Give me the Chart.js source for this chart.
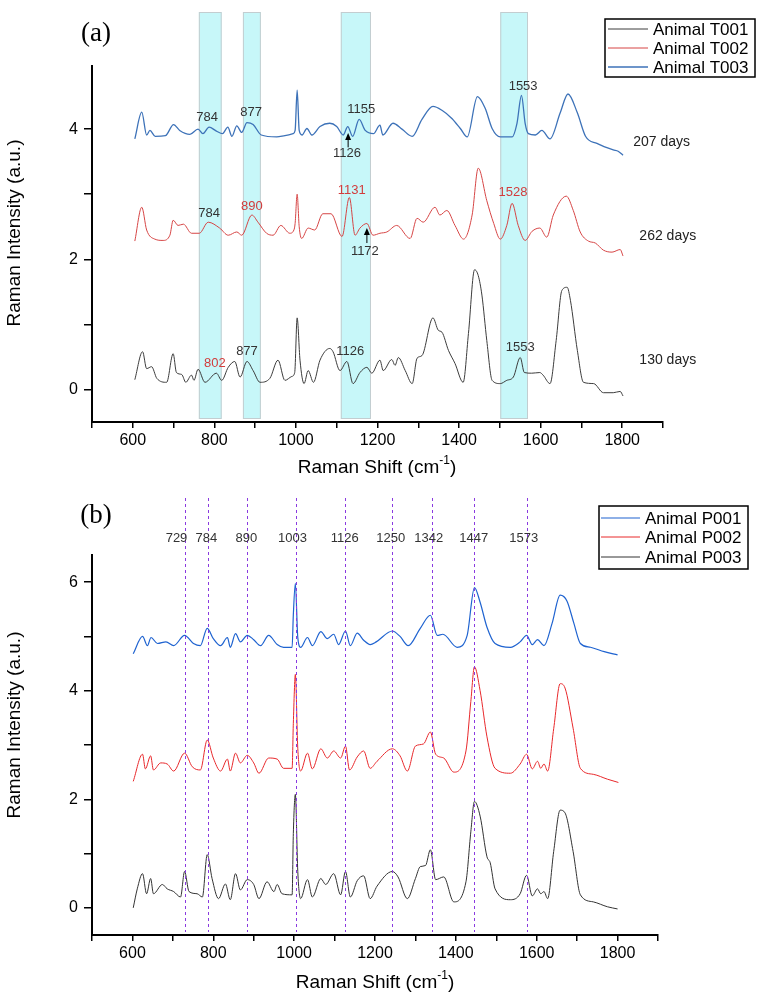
<!DOCTYPE html>
<html>
<head>
<meta charset="utf-8">
<script src="https://cdn.jsdelivr.net/npm/chart.js@4.4.1/dist/chart.umd.min.js"></script>
<style>
  body { margin: 0; background: #fff; }
  #wrap { position: relative; width: 761px; height: 995px; }
  canvas { position: absolute; left: 0; }
  #chartA { top: 0; }
  #chartB { top: 490px; }
</style>
</head>
<body>
<div id="wrap">
  <canvas id="chartA" width="761" height="490"></canvas>
  <canvas id="chartB" width="761" height="505"></canvas>
</div>
<script>
// ---- panel (a) spectra ----
const shiftT001 = [605,624,634,646,659,683,699,707,720,730,744,750,760,777,805,818,834,850,863,880,895,912,936,956,973,990,997,1003,1010,1020,1030,1043,1059,1083,1091,1108,1125,1140,1157,1174,1186,1206,1214,1235,1243,1251,1268,1285,1297,1309,1336,1349,1358,1374,1390,1410,1423,1438,1447,1456,1468,1481,1501,1517,1533,1550,1560,1578,1598,1606,1623,1638,1652,1665,1673,1690,1705,1730,1754,1778,1795,1802];
const intT001 = [0.15,0.58,0.32,0.35,0.17,0.11,0.55,0.26,0.23,0.11,0.22,0.14,0.31,0.11,0.25,0.14,0.34,0.43,0.19,0.43,0.29,0.11,0.17,0.45,0.14,0.20,0.26,1.10,0.45,0.09,0.29,0.11,0.45,0.63,0.58,0.29,0.43,0.09,0.26,0.34,0.25,0.45,0.29,0.46,0.37,0.49,0.29,0.09,0.48,0.52,1.10,0.91,0.88,0.60,0.40,0.11,0.86,1.84,1.75,1.45,0.75,0.14,0.09,0.14,0.19,0.49,0.26,0.25,0.26,0.22,0.09,0.75,1.52,1.57,1.37,0.60,0.11,0.09,-0.05,-0.05,-0.03,-0.10];

const shiftT002 = [605,622,634,654,674,691,699,711,724,744,763,785,813,834,855,867,892,907,928,944,963,985,995,998,1003,1008,1014,1030,1046,1066,1086,1113,1131,1145,1157,1174,1189,1206,1223,1247,1280,1297,1312,1341,1353,1370,1390,1411,1432,1447,1468,1485,1501,1517,1530,1545,1562,1579,1598,1615,1631,1663,1680,1697,1717,1734,1754,1775,1795,1802];
const intT002 = [2.28,2.80,2.45,2.31,2.29,2.37,2.60,2.52,2.54,2.40,2.40,2.57,2.48,2.37,2.42,2.37,2.68,2.57,2.40,2.37,2.52,2.40,2.45,2.55,3.00,2.50,2.32,2.48,2.45,2.70,2.70,2.35,2.95,2.37,2.48,2.55,2.37,2.40,2.42,2.52,2.32,2.63,2.57,2.80,2.68,2.75,2.52,2.31,2.68,3.40,2.90,2.55,2.31,2.52,2.86,2.52,2.29,2.43,2.48,2.34,2.68,2.97,2.75,2.42,2.28,2.25,2.14,2.11,2.15,2.05];

const shiftT003 = [605,622,634,642,655,680,700,715,740,760,772,787,805,820,833,843,855,867,880,895,915,953,973,993,998,1003,1008,1015,1027,1039,1059,1083,1100,1116,1127,1139,1155,1170,1190,1206,1213,1238,1260,1285,1309,1336,1358,1383,1403,1420,1445,1464,1481,1501,1530,1542,1553,1562,1570,1587,1603,1623,1648,1667,1690,1710,1738,1778,1790,1802];
const intT003 = [3.85,4.26,3.91,3.98,3.89,3.90,4.07,3.98,3.92,4.00,3.93,4.03,3.97,3.93,4.03,3.89,4.05,3.95,4.10,4.07,3.91,3.88,3.90,3.93,3.98,4.60,3.98,3.91,4.01,3.91,4.04,4.09,4.04,3.91,4.04,3.89,4.15,3.98,3.93,4.06,3.91,4.09,4.00,3.89,4.15,4.35,4.29,4.16,4.01,3.88,4.50,4.32,4.01,3.88,3.88,4.09,4.52,4.09,3.93,3.91,3.98,3.85,4.25,4.54,4.25,3.89,3.78,3.68,3.66,3.60];

// ---- panel (b) spectra ----
const shiftP001 = [602,625,637,646,662,683,702,729,751,768,785,800,818,835,842,855,867,884,900,917,937,958,974,995,998,1003,1009,1016,1033,1045,1066,1082,1098,1110,1127,1139,1156,1172,1188,1203,1243,1262,1282,1312,1337,1354,1368,1403,1428,1446,1460,1477,1497,1535,1559,1575,1589,1602,1618,1638,1658,1675,1692,1708,1733,1767,1800];
const intP001 = [4.68,5.00,4.83,4.98,4.87,4.90,4.83,5.02,4.87,4.83,5.15,4.96,4.83,4.98,4.80,5.05,4.90,5.02,4.94,4.83,5.02,4.85,4.80,4.80,5.40,5.98,4.98,4.80,4.98,4.83,5.09,4.96,5.04,4.85,5.10,4.83,5.06,4.93,4.85,4.90,5.10,5.00,4.83,5.15,5.39,5.02,5.04,4.80,5.02,5.90,5.63,5.17,4.87,4.80,4.90,5.02,4.85,4.94,4.83,5.24,5.76,5.65,5.24,4.87,4.80,4.72,4.66];

const shiftP002 = [602,625,632,645,652,670,686,702,729,748,768,785,800,818,835,842,855,867,884,900,913,937,958,974,995,998,1003,1009,1016,1033,1045,1066,1082,1098,1115,1127,1137,1156,1172,1188,1205,1243,1262,1280,1300,1320,1337,1350,1370,1395,1425,1437,1446,1460,1477,1497,1535,1559,1575,1589,1602,1610,1618,1627,1642,1658,1670,1690,1708,1740,1775,1802];
const intP002 = [2.33,2.83,2.56,2.80,2.54,2.67,2.65,2.52,2.85,2.60,2.54,3.09,2.76,2.52,2.74,2.52,2.85,2.67,2.81,2.67,2.48,2.76,2.74,2.57,2.57,3.40,4.30,2.94,2.52,2.85,2.56,2.93,2.76,2.89,2.76,2.98,2.54,2.78,2.89,2.57,2.70,2.93,2.80,2.52,2.98,3.02,3.24,2.83,2.76,2.50,2.89,3.80,4.44,4.00,3.15,2.57,2.48,2.65,2.83,2.56,2.70,2.57,2.65,2.52,3.30,4.13,4.05,3.31,2.57,2.46,2.37,2.31];

const shiftP003 = [602,612,625,635,645,652,674,686,702,719,729,740,760,773,785,797,813,830,842,855,867,884,900,913,933,950,958,970,995,998,1003,1009,1016,1033,1045,1066,1078,1098,1115,1127,1139,1156,1172,1188,1205,1243,1257,1280,1300,1312,1325,1337,1350,1370,1395,1425,1437,1446,1460,1477,1485,1497,1535,1559,1575,1589,1602,1610,1618,1627,1642,1658,1670,1690,1708,1740,1775,1800];
const intP003 = [0.00,0.35,0.63,0.26,0.54,0.26,0.43,0.35,0.30,0.20,0.67,0.30,0.26,0.20,0.98,0.54,0.17,0.44,0.15,0.63,0.33,0.52,0.43,0.17,0.48,0.30,0.43,0.26,0.24,1.37,2.09,0.67,0.17,0.52,0.20,0.54,0.43,0.63,0.24,0.67,0.20,0.50,0.59,0.17,0.40,0.67,0.57,0.17,0.54,0.76,0.78,1.07,0.52,0.57,0.11,0.48,1.40,1.96,1.69,0.94,0.83,0.35,0.15,0.26,0.60,0.22,0.35,0.26,0.30,0.17,1.04,1.80,1.75,1.04,0.24,0.11,0.02,-0.02];

// highlighted bands (a) and marked shifts (b)
const bandsA = [[762, 818], [870, 914], [1110, 1184], [1501, 1569]];
const linesB = [729, 786, 884, 1004, 1127, 1243, 1340, 1446, 1575];
const lineLabelsB = ['729', '784', '890', '1003', '1126', '1250', '1342', '1447', '1573'];
const lineLabelPosB = [709, 783, 882, 996, 1125, 1239, 1333, 1444, 1568];

const xTicks = [500,600,700,800,900,1000,1100,1200,1300,1400,1500,1600,1700,1800,1900];

const SANS = '"Liberation Sans", Arial, sans-serif';
const DARK = '#333333';
const RED = '#d23c3c';

// peak labels in (a): text, shift, intensity, colour
const peakLabelsA = [
  ['784', 782, 4.18, DARK], ['877', 890, 4.26, DARK], ['1155', 1160, 4.31, DARK],
  ['1126', 1125, 3.63, DARK], ['1553', 1557, 4.66, DARK],
  ['784', 787, 2.71, DARK], ['890', 892, 2.82, RED], ['1131', 1137, 3.06, RED],
  ['1172', 1169, 2.12, DARK], ['1528', 1532, 3.02, RED],
  ['802', 801, 0.40, RED], ['877', 880, 0.58, DARK], ['1126', 1133, 0.58, DARK],
  ['1553', 1550, 0.65, DARK]
];
const arrowsA = [[1128, 3.72, 3.94], [1174, 2.25, 2.48]];
const daysA = [['207 days', 1827, 3.80], ['262 days', 1842, 2.35], ['130 days', 1842, 0.45]];

function toPoints(xs, ys) {
  return xs.map((x, i) => ({ x: x, y: ys[i] }));
}

function series(label, xs, ys, color, width) {
  return {
    label: label,
    data: toPoints(xs, ys),
    borderColor: color,
    borderWidth: width,
    pointRadius: 0,
    cubicInterpolationMode: 'monotone',
    fill: false
  };
}

function xAxis(height) {
  return {
    type: 'linear', min: 500, max: 1900,
    afterBuildTicks: s => { s.ticks = xTicks.map(v => ({ value: v })); },
    afterFit: s => { s.height = height; },
    ticks: {
      autoSkip: false, maxRotation: 0, padding: 3, color: '#000',
      font: { family: SANS, size: 16 },
      callback: v => (v % 200 === 0 && v >= 600 && v <= 1800) ? v : ''
    },
    grid: { drawOnChartArea: false, tickLength: 6, color: '#000', lineWidth: 1.5 },
    border: { color: '#000', width: 2 }
  };
}

function yAxis(min, max, ticks) {
  return {
    min: min, max: max,
    afterBuildTicks: s => { s.ticks = ticks.map(v => ({ value: v })); },
    afterFit: s => { s.width = 92; },
    ticks: {
      padding: 6, color: '#000',
      font: { family: SANS, size: 16 },
      callback: v => v % 2 === 0 ? v : ''
    },
    grid: { drawOnChartArea: false, tickLength: 8, color: '#000', lineWidth: 1.5 },
    border: { color: '#000', width: 2 }
  };
}

function text(ctx, str, x, y, size, color, align) {
  ctx.font = size + 'px ' + SANS;
  ctx.fillStyle = color;
  ctx.textAlign = align || 'center';
  ctx.textBaseline = 'middle';
  ctx.fillText(str, x, y);
}

function axisTitles(ctx, cx, cy, ty) {
  // x title with superscript -1
  ctx.save();
  ctx.fillStyle = '#000';
  ctx.textBaseline = 'middle';
  ctx.textAlign = 'left';
  ctx.font = '19px ' + SANS;
  const a = 'Raman Shift (cm', c = ')';
  const wa = ctx.measureText(a).width, wc = ctx.measureText(c).width;
  ctx.font = '12px ' + SANS;
  const wb = ctx.measureText('-1').width;
  let x = cx - (wa + wb + wc) / 2;
  ctx.font = '19px ' + SANS;
  ctx.fillText(a, x, cy);
  ctx.font = '12px ' + SANS;
  ctx.fillText('-1', x + wa, cy - 7);
  ctx.font = '19px ' + SANS;
  ctx.fillText(c, x + wa + wb, cy);
  // y title
  ctx.translate(15, ty);
  ctx.rotate(-Math.PI / 2);
  ctx.textAlign = 'center';
  ctx.fillText('Raman Intensity (a.u.)', 0, 0);
  ctx.restore();
}

function legend(ctx, chart, box, rowY, lineX0, lineX1, textX) {
  ctx.save();
  ctx.fillStyle = '#fff';
  ctx.fillRect(box[0], box[1], box[2], box[3]);
  ctx.strokeStyle = '#000';
  ctx.lineWidth = 1.5;
  ctx.strokeRect(box[0], box[1], box[2], box[3]);
  chart.data.datasets.forEach((ds, i) => {
    ctx.strokeStyle = ds.borderColor;
    ctx.lineWidth = ds.borderWidth;
    ctx.beginPath();
    ctx.moveTo(lineX0, rowY[i]);
    ctx.lineTo(lineX1, rowY[i]);
    ctx.stroke();
    text(ctx, ds.label, textX, rowY[i] + 1, 17, '#000', 'left');
  });
  ctx.restore();
}

const panelA = {
  id: 'panelA',
  beforeDatasetsDraw(chart) {
    const ctx = chart.ctx, xs = chart.scales.x;
    ctx.save();
    bandsA.forEach(b => {
      const x0 = xs.getPixelForValue(b[0]), x1 = xs.getPixelForValue(b[1]);
      ctx.fillStyle = '#c7f7f9';
      ctx.fillRect(x0, 12, x1 - x0, 407);
      ctx.strokeStyle = '#c3cdd0';
      ctx.lineWidth = 1;
      ctx.strokeRect(x0 + 0.5, 12.5, x1 - x0 - 1, 406);
    });
    ctx.restore();
  },
  afterDraw(chart) {
    const ctx = chart.ctx, xs = chart.scales.x, ys = chart.scales.y;
    ctx.save();
    peakLabelsA.forEach(p => {
      text(ctx, p[0], xs.getPixelForValue(p[1]), ys.getPixelForValue(p[2]), 13, p[3]);
    });
    arrowsA.forEach(a => {
      const x = xs.getPixelForValue(a[0]);
      const y0 = ys.getPixelForValue(a[1]), y1 = ys.getPixelForValue(a[2]);
      ctx.strokeStyle = '#000';
      ctx.lineWidth = 1;
      ctx.beginPath();
      ctx.moveTo(x, y0);
      ctx.lineTo(x, y1 + 5);
      ctx.stroke();
      ctx.fillStyle = '#000';
      ctx.beginPath();
      ctx.moveTo(x, y1);
      ctx.lineTo(x - 3, y1 + 7);
      ctx.lineTo(x + 3, y1 + 7);
      ctx.closePath();
      ctx.fill();
    });
    daysA.forEach(d => {
      text(ctx, d[0], xs.getPixelForValue(d[1]), ys.getPixelForValue(d[2]), 14, '#222', 'left');
    });
    ctx.font = '27px "Liberation Serif", "Times New Roman", serif';
    ctx.fillStyle = '#000';
    ctx.textAlign = 'center';
    ctx.textBaseline = 'middle';
    ctx.fillText('(a)', 96, 34);
    axisTitles(ctx, 377, 468, 233);
    legend(ctx, chart, [605, 19, 150, 58], [29, 48, 67], 608, 648, 653);
    ctx.restore();
  }
};

const panelB = {
  id: 'panelB',
  afterDatasetsDraw(chart) {
    const ctx = chart.ctx, xs = chart.scales.x;
    ctx.save();
    ctx.strokeStyle = '#8a3ae0';
    ctx.lineWidth = 1;
    ctx.setLineDash([3, 3]);
    linesB.forEach(v => {
      const x = Math.round(xs.getPixelForValue(v)) + 0.5;
      ctx.beginPath();
      ctx.moveTo(x, 8);
      ctx.lineTo(x, 442);
      ctx.stroke();
    });
    ctx.restore();
  },
  afterDraw(chart) {
    const ctx = chart.ctx, xs = chart.scales.x;
    ctx.save();
    lineLabelsB.forEach((t, i) => {
      text(ctx, t, xs.getPixelForValue(lineLabelPosB[i]), 48, 13, DARK);
    });
    ctx.font = '27px "Liberation Serif", "Times New Roman", serif';
    ctx.fillStyle = '#000';
    ctx.textAlign = 'center';
    ctx.textBaseline = 'middle';
    ctx.fillText('(b)', 96, 26);
    axisTitles(ctx, 375, 493, 235);
    legend(ctx, chart, [599, 16, 149, 63], [28, 47, 67], 601, 640, 645);
    ctx.restore();
  }
};

const common = {
  responsive: false,
  animation: false,
  plugins: { legend: { display: false }, tooltip: { enabled: false } }
};

new Chart(document.getElementById('chartA'), {
  type: 'line',
  data: {
    datasets: [
      series('Animal T001', shiftT001, intT001, '#3c3c3c', 1),
      series('Animal T002', shiftT002, intT002, '#d64545', 1),
      series('Animal T003', shiftT003, intT003, '#3d72b8', 1.3)
    ]
  },
  options: Object.assign({}, common, {
    layout: { padding: { left: 0, top: 66, right: 98, bottom: 0 } },
    scales: { x: xAxis(68), y: yAxis(-0.5, 4.97, [0, 1, 2, 3, 4]) }
  }),
  plugins: [panelA]
});

new Chart(document.getElementById('chartB'), {
  type: 'line',
  data: {
    datasets: [
      series('Animal P001', shiftP001, intP001, '#1f63d0', 1.2),
      series('Animal P002', shiftP002, intP002, '#e8282b', 1),
      series('Animal P003', shiftP003, intP003, '#333333', 1)
    ]
  },
  options: Object.assign({}, common, {
    layout: { padding: { left: 0, top: 65, right: 103, bottom: 0 } },
    scales: { x: xAxis(60), y: yAxis(-0.5, 6.5, [0, 1, 2, 3, 4, 5, 6]) }
  }),
  plugins: [panelB]
});
</script>
</body>
</html>
